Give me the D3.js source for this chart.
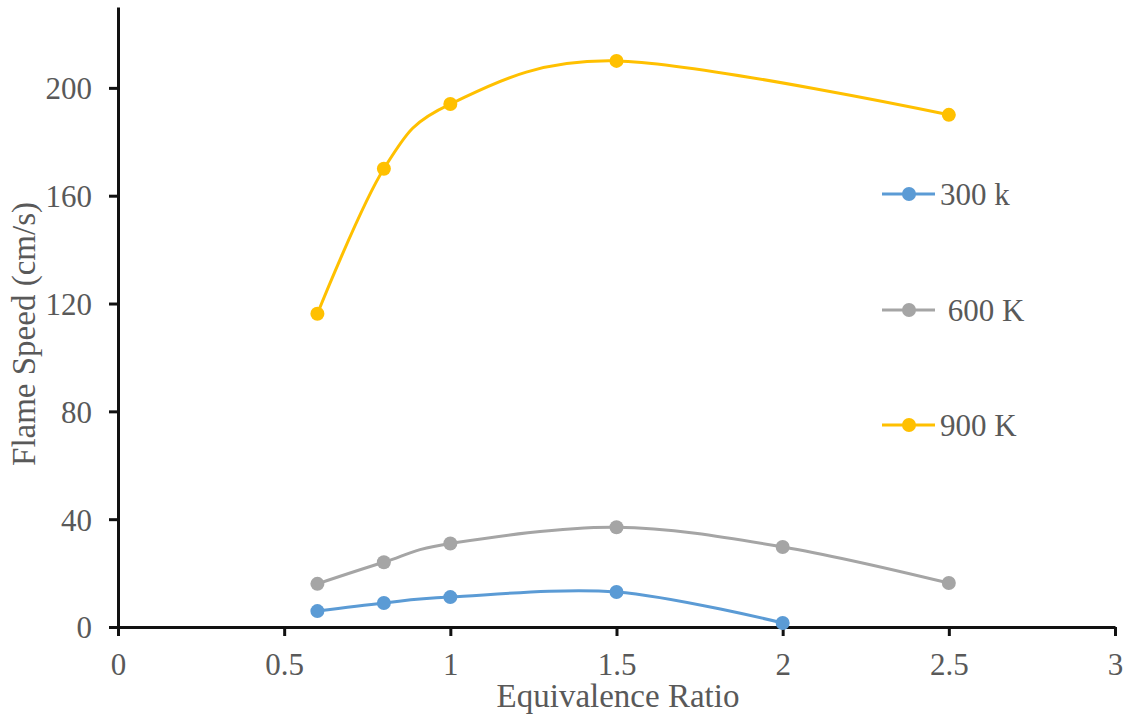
<!DOCTYPE html>
<html><head><meta charset="utf-8">
<script src="https://cdn.jsdelivr.net/npm/d3@7"></script>
<style>body{margin:0;background:#fff}svg{display:block}
text{font-family:"Liberation Serif","Times New Roman",Times,serif !important}</style>
</head><body>
<script>
const xs300 = [0.6, 0.8, 1, 1.5, 2];
const v300 = [5.9, 8.9, 11.1, 13, 1.5];
const xs600 = [0.6, 0.8, 1, 1.5, 2, 2.5];
const v600 = [16, 24, 31, 37, 29.7, 16.3];
const xs900 = [0.6, 0.8, 1, 1.5, 2.5];
const v900 = [116.2, 170, 194, 210, 190];
const seriesNames = ["300 k", " 600 K", "900 K"];
const colors = ["#5B9BD5", "#A5A5A5", "#FFC000"];
const xTicks = [0, 0.5, 1, 1.5, 2, 2.5, 3];
const yTicks = [0, 40, 80, 120, 160, 200];

const W = 1127, H = 715;
const svg = d3.select("body").append("svg").attr("width", W).attr("height", H);
const x = d3.scaleLinear().domain([0, 3]).range([118, 1115]);
const y = d3.scaleLinear().domain([0, 230]).range([627, 7]);
const tc = "#595959";

// axes
const xa = svg.append("g").attr("transform", "translate(0,627)")
  .call(d3.axisBottom(x).tickValues(xTicks).tickFormat(d3.format("")).tickSize(9).tickSizeOuter(0));
const ya = svg.append("g").attr("transform", "translate(118,0)")
  .call(d3.axisLeft(y).tickValues(yTicks).tickSize(9).tickSizeOuter(0));
[xa, ya].forEach(g => {
  g.attr("font-family", null);
  g.select(".domain").attr("stroke", "#111").attr("stroke-width", 3);
  g.selectAll(".tick line").attr("stroke", "#111").attr("stroke-width", 3);
  g.selectAll("text").attr("fill", tc).style("font-size", "31px");
});
xa.selectAll("text").attr("y", 0).attr("dy", 0).attr("transform", "translate(0,48)");
ya.selectAll("text").attr("dy", "0.35em").attr("x", -26);

svg.append("text").attr("x", 618).attr("y", 707).attr("text-anchor", "middle")
  .attr("fill", tc).style("font-size", "33px").text("Equivalence Ratio");
svg.append("text").attr("transform", "translate(35,334) rotate(-90)").attr("text-anchor", "middle")
  .attr("fill", tc).style("font-size", "33px").text("Flame Speed (cm/s)");

const data = [
  xs300.map((d, i) => [d, v300[i]]),
  xs600.map((d, i) => [d, v600[i]]),
  xs900.map((d, i) => [d, v900[i]])
];
const line = d3.line().x(d => x(d[0])).y(d => y(d[1])).curve(d3.curveCardinal.tension(0));
data.forEach((s, k) => {
  svg.append("path").attr("d", line(s)).attr("fill", "none").attr("stroke", colors[k]).attr("stroke-width", 3);
  svg.selectAll(null).data(s).enter().append("circle")
    .attr("cx", d => x(d[0])).attr("cy", d => y(d[1])).attr("r", 7).attr("fill", colors[k]);
});

// legend
const ly = [194, 310, 425];
seriesNames.forEach((n, k) => {
  const g = svg.append("g").attr("transform", `translate(0,${ly[k]})`);
  g.append("line").attr("x1", 882).attr("x2", 935).attr("stroke", colors[k]).attr("stroke-width", 3);
  g.append("circle").attr("cx", 909).attr("r", 7).attr("fill", colors[k]);
  g.append("text").attr("x", 940).attr("dy", "0.35em").attr("fill", tc)
    .style("font-size", "31px").style("white-space", "pre").text(n);
});
</script>
</body></html>
